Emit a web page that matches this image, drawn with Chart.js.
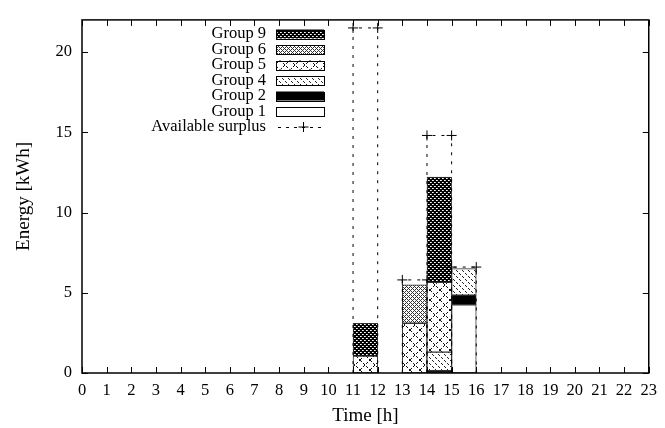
<!DOCTYPE html>
<html lang="en">
<head>
<meta charset="UTF-8">
<title>Energy per hour</title>
<script src="https://cdn.jsdelivr.net/npm/chart.js"></script>
<style>
  html, body { margin: 0; padding: 0; background: #fff; }
  #wrap { width: 665px; height: 428px; }
</style>
</head>
<body>
<div id="wrap"><canvas id="energyChart" width="665" height="428"></canvas></div>
<script>
// hours that have any load (bar spans h .. h+1)
const hours = [11, 13, 14, 15];
const group1 = [0, 0, 0, 4.25];
const group2 = [0, 0, 0.15, 0.6];
const group4 = [0, 0, 1.15, 1.65];
const group5 = [1.05, 3.1, 4.35, 0];
const group6 = [0, 2.4, 0, 0];
const group9 = [2.05, 0, 6.55, 0];

const surplusHours = [11, 13, 14, 15];
const surplusValues = [21.5, 5.8, 14.8, 6.6];

const yTicks = [0, 5, 10, 15, 20];

// small tiles used as fill patterns
function makePattern(size, paint) {
  const c = document.createElement('canvas');
  c.width = c.height = size;
  const g = c.getContext('2d');
  g.fillStyle = '#fff';
  g.fillRect(0, 0, size, size);
  paint(g, size);
  return g.createPattern(c, 'repeat');
}
function px(g, x, y, col) { g.fillStyle = col; g.fillRect(x, y, 1, 1); }

const patDense = makePattern(4, (g) => {
  g.fillStyle = '#000'; g.fillRect(0, 0, 4, 4);
  px(g, 0, 0, '#fff'); px(g, 2, 2, '#fff');
  px(g, 1, 0, '#bbb'); px(g, 3, 2, '#bbb');
});
const patFine = makePattern(4, (g) => {
  for (let x = 0; x < 4; x++) for (let y = 0; y < 4; y++) {
    if ((x + y) % 4 === 0 || (x - y + 4) % 4 === 0) px(g, x, y, '#333');
  }
});
const patCross = makePattern(10, (g, n) => {
  for (let i = 0; i < n; i++) {
    if (i % 3 === 2) continue;
    px(g, i, i, '#111');
    px(g, i, n - 1 - i, '#111');
  }
});
const patBack = makePattern(6, (g, n) => {
  for (let i = 0; i < n; i++) {
    if (i % 3 === 2) continue;
    px(g, i, i, '#222');
  }
});

const groups = [
  { name: 'Group 1', values: group1, fill: '#fff' },
  { name: 'Group 2', values: group2, fill: '#000' },
  { name: 'Group 4', values: group4, fill: patBack },
  { name: 'Group 5', values: group5, fill: patCross },
  { name: 'Group 6', values: group6, fill: patFine },
  { name: 'Group 9', values: group9, fill: patDense }
];

const barSets = groups.map(gr => ({
  type: 'bar',
  label: gr.name,
  data: hours.map((h, i) => ({ x: h + 0.5, y: gr.values[i] || null })),
  backgroundColor: gr.fill,
  borderColor: '#333',
  borderWidth: 1,
  borderSkipped: false,
  barPercentage: 1,
  categoryPercentage: 1,
  stack: 'energy',
  order: 1
}));

// surplus drawn as an outlined step box per hour
const surplusPoints = [];
surplusHours.forEach((h, i) => {
  const s = surplusValues[i];
  surplusPoints.push({ x: h, y: 0 }, { x: h, y: s }, { x: h + 1, y: s }, { x: h + 1, y: 0 }, { x: h + 1, y: null });
});

const surplusSet = {
  type: 'line',
  label: 'Available surplus',
  data: surplusPoints,
  borderColor: '#000',
  borderWidth: 1,
  borderDash: [3, 6],
  fill: false,
  tension: 0,
  spanGaps: false,
  pointStyle: 'cross',
  pointRadius: c => (c.raw && c.raw.y > 0 ? 5 : 0),
  pointBorderColor: '#000',
  pointBorderWidth: 1,
  stack: 'surplus',
  order: 0
};

const serif = '"Liberation Serif", "Times New Roman", serif';
const fontPx = 16.5;
const titleFont = { size: 19 };
Chart.defaults.font.family = serif;
Chart.defaults.font.size = fontPx;
Chart.defaults.color = '#000';

const frame = {
  id: 'frame',
  afterDraw(chart) {
    const { ctx, chartArea: a, scales } = chart;
    ctx.save();
    ctx.strokeStyle = '#000';
    ctx.lineWidth = 1.5;
    ctx.setLineDash([]);
    ctx.strokeRect(a.left, a.top, a.right - a.left, a.bottom - a.top);
    ctx.lineWidth = 1;
    ctx.beginPath();
    scales.x.ticks.forEach(t => {
      const x = Math.round(scales.x.getPixelForValue(t.value)) + 0.5;
      ctx.moveTo(x, a.bottom); ctx.lineTo(x, a.bottom - 6);
      ctx.moveTo(x, a.top); ctx.lineTo(x, a.top + 6);
    });
    scales.y.ticks.forEach(t => {
      const y = Math.round(scales.y.getPixelForValue(t.value)) + 0.5;
      ctx.moveTo(a.left, y); ctx.lineTo(a.left + 6, y);
      ctx.moveTo(a.right, y); ctx.lineTo(a.right - 6, y);
    });
    ctx.stroke();

    // key, top of stack listed first
    ctx.font = fontPx + 'px ' + serif;
    ctx.textAlign = 'right';
    ctx.textBaseline = 'middle';
    const rows = groups.slice().reverse();
    const x0 = 276, x1 = 324, step = 15.5;
    let y = 34;
    rows.forEach(gr => {
      ctx.fillStyle = '#000';
      ctx.fillText(gr.name, 266, y);
      ctx.fillStyle = gr.fill;
      ctx.fillRect(x0, y - 4.5, x1 - x0, 9);
      ctx.strokeStyle = '#000';
      ctx.strokeRect(x0 + 0.5, Math.round(y - 4.5) + 0.5, x1 - x0, 9);
      y += step;
    });
    ctx.fillStyle = '#000';
    ctx.fillText('Available surplus', 266, y);
    ctx.beginPath();
    ctx.setLineDash([3, 5]);
    ctx.moveTo(x0 + 2, Math.round(y) + 0.5); ctx.lineTo(x1, Math.round(y) + 0.5);
    ctx.stroke();
    ctx.setLineDash([]);
    ctx.beginPath();
    ctx.moveTo(303.5, y - 5); ctx.lineTo(303.5, y + 5);
    ctx.moveTo(298.5, y); ctx.lineTo(308.5, y);
    ctx.stroke();
    ctx.restore();
  }
};

new Chart(document.getElementById('energyChart'), {
  data: { datasets: [...barSets, surplusSet] },
  options: {
    responsive: false,
    animation: false,
    layout: { padding: { top: 12, right: 15, left: 0, bottom: 0 } },
    plugins: { legend: { display: false }, tooltip: { enabled: false } },
    scales: {
      x: {
        type: 'linear',
        min: 0,
        max: 23,
        offset: false,
        ticks: { stepSize: 1, padding: 8, autoSkip: false, maxRotation: 0 },
        grid: { display: false, drawTicks: false, offset: false },
        border: { display: false },
        title: { display: true, text: 'Time [h]', font: titleFont, padding: { top: 0, bottom: 1 } },
        afterFit: s => { s.height = 55; }
      },
      y: {
        type: 'linear',
        min: 0,
        max: 22,
        afterBuildTicks: s => { s.ticks = yTicks.map(v => ({ value: v })); },
        ticks: { padding: 10 },
        grid: { display: false, drawTicks: false },
        border: { display: false },
        title: { display: true, text: 'Energy [kWh]', font: titleFont, padding: { top: 13, bottom: 0 } },
        afterFit: s => { s.width = 82; }
      }
    }
  },
  plugins: [frame]
});
</script>
</body>
</html>
